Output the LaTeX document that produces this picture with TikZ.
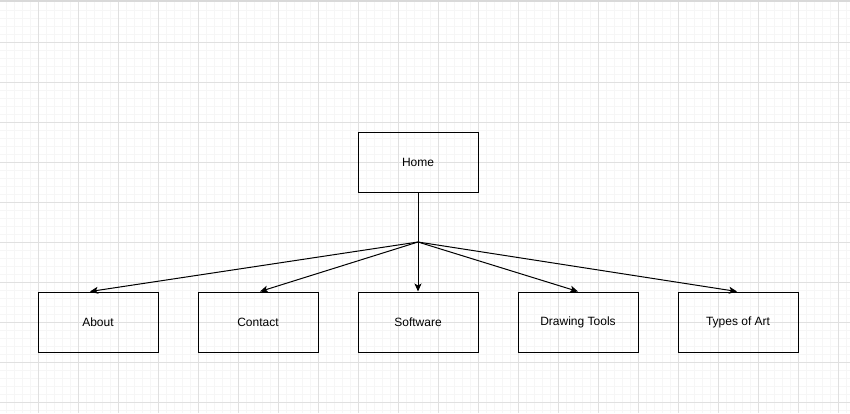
\documentclass[tikz,border=0pt]{standalone}
\usepackage{fontspec}
\setmainfont{Liberation Sans}
\usetikzlibrary{arrows.meta}
\definecolor{minorgrid}{HTML}{F6F6F6}
\definecolor{majorgrid}{HTML}{E0E0E0}
\definecolor{topbar}{HTML}{D9D9D9}
\begin{document}
\begin{tikzpicture}[x=1pt,y=-1pt,
  page/.style={draw, line width=1pt, minimum width=120pt, minimum height=60pt, font=\fontsize{12}{14}\selectfont, inner sep=0pt},
  link/.style={draw, line width=1pt, -{Stealth[length=8pt,width=7pt,inset=2pt]}}]
\useasboundingbox (0,0) rectangle (850,413);
\fill[white] (0,0) rectangle (850,413);
% grid
\foreach \x in {6,14,...,850} \draw[minorgrid, line width=0.8pt] (\x,0) -- (\x,413);
\foreach \y in {10,18,...,413} \draw[minorgrid, line width=0.8pt] (0,\y) -- (850,\y);
\foreach \x in {38,78,...,850} \draw[majorgrid, line width=1pt] (\x,0) -- (\x,413);
\foreach \y in {42,82,...,413} \draw[majorgrid, line width=1pt] (0,\y) -- (850,\y);
\fill[topbar] (0,0) rectangle (850,2);

\node[page] (home) at (418,162) {Home};
\node[page] (about) at (98,322) {About};
\node[page] (contact) at (258,322) {Contact};
\node[page] (software) at (418,322) {Software};
\node[page] (drawing) at (578,322) {Drawing Tools};
\node[page] (types) at (738,322) {Types of Art};
\coordinate (hub) at (418,242);

\path[draw, line width=1pt] (home) -- (hub);
\path[link] (hub) -- ([xshift=-8pt]about.north);
\path[link] (hub) -- ([xshift=2pt]contact.north);
\path[link] (hub) -- (software);
\path[link] (hub) -- (drawing.north);
\path[link] (hub) -- ([xshift=-1pt]types.north);
\end{tikzpicture}
\end{document}
